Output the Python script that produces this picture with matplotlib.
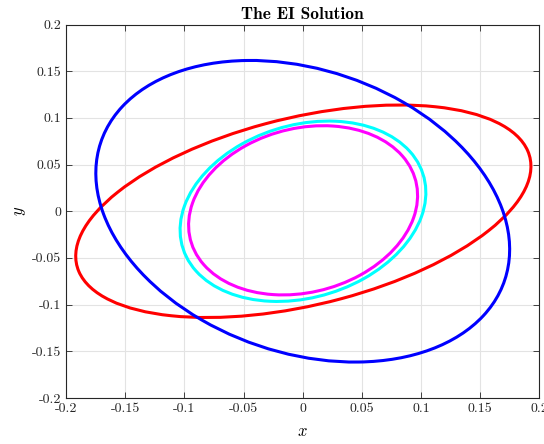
import matplotlib
matplotlib.use("Agg")
import matplotlib.pyplot as plt
from matplotlib.patches import Ellipse
from matplotlib.ticker import StrMethodFormatter

plt.rcParams['font.family'] = 'serif'
plt.rcParams['font.serif'] = ['cmr10', 'DejaVu Serif']
plt.rcParams['mathtext.fontset'] = 'cm'
plt.rcParams['axes.unicode_minus'] = False
plt.rcParams['axes.formatter.use_mathtext'] = True

# ellipse parameters (centre, full axes, tilt in degrees)
names = ['red', 'blue', 'cyan', 'magenta']
centre_x = [0.0005, 0.0, 0.0002, 0.0003]
centre_y = [0.0, 0.0, 0.0, 0.001]
widths = [0.4006, 0.3784, 0.2214, 0.2042]
heights = [0.1980, 0.2887, 0.1772, 0.1690]
angles = [18.8, -36.3, 35.4, 34.8]
colors = ['#ff0000', '#0000ff', '#00ffff', '#ff00ff']

xticks = [-0.2, -0.15, -0.1, -0.05, 0, 0.05, 0.1, 0.15, 0.2]
yticks = [-0.2, -0.15, -0.1, -0.05, 0, 0.05, 0.1, 0.15, 0.2]

fig = plt.figure(figsize=(5.44, 4.44), dpi=100)
ax = fig.add_axes([0.1213, 0.1036, 0.8704, 0.8412])

for cx, cy, w, h, ang, col in zip(centre_x, centre_y, widths, heights, angles, colors):
    ax.add_patch(Ellipse((cx, cy), w, h, angle=ang, fill=False,
                         edgecolor=col, linewidth=2.2))

ax.set_xlim(-0.2, 0.2)
ax.set_ylim(-0.2, 0.2)
ax.set_xticks(xticks)
ax.set_yticks(yticks)
ax.xaxis.set_major_formatter(StrMethodFormatter('{x:g}'))
ax.yaxis.set_major_formatter(StrMethodFormatter('{x:g}'))
ax.tick_params(direction='in', top=True, right=True, length=4,
               width=0.6, color='#262626', labelsize=10, labelcolor='#262626')
ax.grid(True, color='#e3e3e3', linewidth=0.8)
ax.set_axisbelow(True)
for sp in ax.spines.values():
    sp.set_color('#262626')
    sp.set_linewidth(0.8)

ax.set_title('The EI Solution', fontfamily='cmb10', fontsize=12.5, pad=4)
ax.set_xlabel('$x$', fontsize=12, labelpad=6)
ax.set_ylabel('$y$', fontsize=12, labelpad=3)

fig.savefig('out.png', dpi=100)
